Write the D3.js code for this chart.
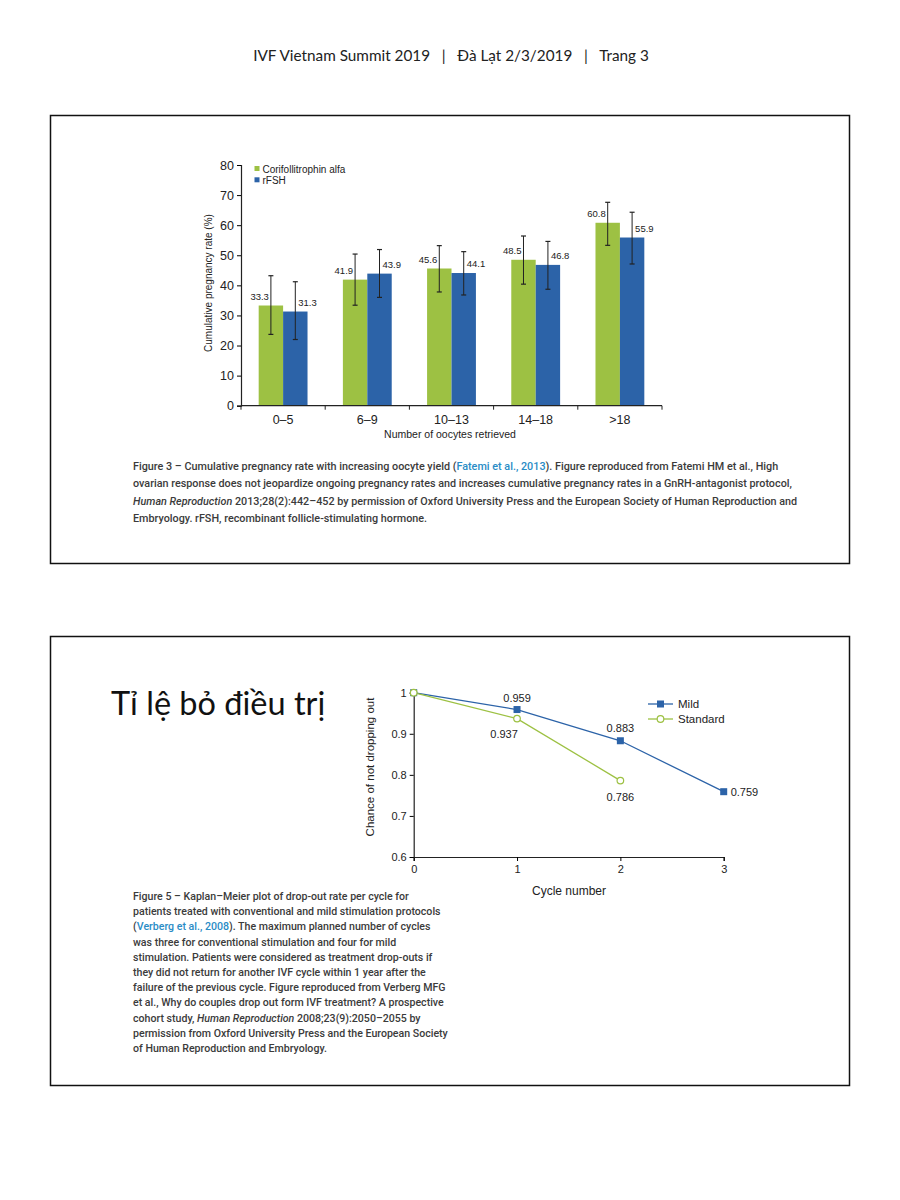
<!DOCTYPE html>
<html>
<head>
<meta charset="utf-8">
<script src="https://cdn.jsdelivr.net/npm/d3@7"></script>
<style>
  body { margin: 0; background: #fff; }
  svg { display: block; }
  .chart text { font-family: "Liberation Sans Narrow", "Liberation Sans", sans-serif; fill: #222; }
  .cap { font-family: Roboto, "Noto Sans", sans-serif; font-weight: 500; fill: #3b3b3b; }
  .cap .link { fill: #2a8cc6; }
  .cap .it { font-style: italic; }
</style>
</head>
<body>
<div id="page"></div>
<script>
// ---- data: figure 3 (bars) ----
var groups = ['0–5', '6–9', '10–13', '14–18', '>18'];
var coriValues = [33.3, 41.9, 45.6, 48.5, 60.8];
var coriLow = [23.7, 33.4, 37.8, 40.4, 53.3];
var coriHigh = [43.2, 50.4, 53.2, 56.4, 67.6];
var rfshValues = [31.3, 43.9, 44.1, 46.8, 55.9];
var rfshLow = [22.0, 36.0, 36.8, 38.7, 47.1];
var rfshHigh = [41.2, 51.9, 51.2, 54.6, 64.3];
var rateTicks = [0, 10, 20, 30, 40, 50, 60, 70, 80];

// ---- data: figure 5 (lines) ----
var cycles = [0, 1, 2, 3];
var mildValues = [1, 0.959, 0.883, 0.759];
var standardValues = [1, 0.937, 0.786];
var chanceTicks = [0.6, 0.7, 0.8, 0.9, 1];
var cycleTicks = [0, 1, 2, 3];

var green = '#9dc143';
var blue = '#2c63a8';

var svg = d3.select('#page').append('svg')
    .attr('width', 900)
    .attr('height', 1200);

// header
svg.append('text')
    .attr('x', 451).attr('y', 61)
    .attr('text-anchor', 'middle')
    .style('font-family', 'Lato, "Open Sans", sans-serif')
    .style('font-size', '15.3px')
    .style('fill', '#222')
    .style('white-space', 'pre')
    .text('IVF Vietnam Summit 2019   |   Đà Lạt 2/3/2019   |   Trang 3');

// frames
svg.append('rect').attr('x', 50.5).attr('y', 115.5).attr('width', 799).attr('height', 448)
    .attr('fill', 'none').attr('stroke', '#111').attr('stroke-width', 1.5);
svg.append('rect').attr('x', 50.5).attr('y', 636.5).attr('width', 799).attr('height', 449)
    .attr('fill', 'none').attr('stroke', '#111').attr('stroke-width', 1.5);

// ================= figure 3 =================
var bars = svg.append('g').attr('class', 'chart');

var x0 = d3.scaleBand().domain(groups).range([241, 662]);
var x1 = d3.scaleBand().domain(['cori', 'rfsh'])
    .range([x0.bandwidth() * 0.21, x0.bandwidth() * 0.79]);
var yRate = d3.scaleLinear().domain([0, 80]).range([405.7, 165]);

var yAxisBar = bars.append('g')
    .attr('transform', 'translate(241,0)')
    .call(d3.axisLeft(yRate).tickValues(rateTicks).tickSize(4).tickPadding(3));
yAxisBar.selectAll('text').style('font-size', '12.5px');

var series = [
  { key: 'cori', color: green, values: coriValues, low: coriLow, high: coriHigh },
  { key: 'rfsh', color: blue, values: rfshValues, low: rfshLow, high: rfshHigh }
];

series.forEach(function(s) {
  var g = bars.append('g');
  groups.forEach(function(grp, i) {
    var bx = x0(grp) + x1(s.key);
    var cx = bx + x1.bandwidth() / 2;
    g.append('rect')
        .attr('x', bx)
        .attr('y', yRate(s.values[i]))
        .attr('width', x1.bandwidth())
        .attr('height', yRate(0) - yRate(s.values[i]))
        .attr('fill', s.color);
    // error bar
    g.append('line').attr('x1', cx).attr('x2', cx)
        .attr('y1', yRate(s.low[i])).attr('y2', yRate(s.high[i]))
        .attr('stroke', '#222').attr('stroke-width', 1);
    [s.low[i], s.high[i]].forEach(function(v) {
      g.append('line').attr('x1', cx - 2.5).attr('x2', cx + 2.5)
          .attr('y1', yRate(v)).attr('y2', yRate(v))
          .attr('stroke', '#222').attr('stroke-width', 1.2);
    });
    // value label
    g.append('text')
        .attr('x', s.key === 'cori' ? cx - 2 : cx + 3)
        .attr('y', yRate(s.values[i]) - 6)
        .attr('text-anchor', s.key === 'cori' ? 'end' : 'start')
        .style('font-size', '9.5px')
        .text(s.values[i].toFixed(1));
  });
});

// x axis drawn after bars
var xAxisBar = bars.append('g').attr('transform', 'translate(0,405.7)');
xAxisBar.append('line').attr('x1', 241).attr('x2', 662)
    .attr('stroke', '#222').attr('stroke-width', 1.2);
x0.domain().forEach(function(grp, i) {
  xAxisBar.append('line').attr('x1', x0(grp)).attr('x2', x0(grp))
      .attr('y1', 0).attr('y2', 4).attr('stroke', '#222');
  xAxisBar.append('text')
      .attr('x', x0(grp) + x0.bandwidth() / 2).attr('y', 18)
      .attr('text-anchor', 'middle')
      .style('font-size', '12.5px')
      .text(grp);
});
xAxisBar.append('line').attr('x1', 662).attr('x2', 662)
    .attr('y1', 0).attr('y2', 4).attr('stroke', '#222');
yAxisBar.select('.domain').attr('stroke', '#222').attr('stroke-width', 1.2);

bars.append('text')
    .attr('x', 450).attr('y', 438)
    .attr('text-anchor', 'middle')
    .style('font-size', '10.5px')
    .text('Number of oocytes retrieved');
bars.append('text')
    .attr('transform', 'translate(212,283) rotate(-90)')
    .attr('text-anchor', 'middle')
    .style('font-size', '10px')
    .text('Cumulative pregnancy rate (%)');

// legend
var barLegend = [['Corifollitrophin alfa', green], ['rFSH', blue]];
barLegend.forEach(function(d, i) {
  bars.append('rect').attr('x', 254.5).attr('y', 166 + i * 11.3)
      .attr('width', 5).attr('height', 5).attr('fill', d[1]);
  bars.append('text').attr('x', 262.5).attr('y', 172.5 + i * 11.3)
      .style('font-size', '10px').text(d[0]);
});

// caption figure 3
var cap1 = [
  [['Figure 3 – Cumulative pregnancy rate with increasing oocyte yield (', ''], ['Fatemi et al., 2013', 'link'], ['). Figure reproduced from Fatemi HM et al., High', '']],
  [['ovarian response does not jeopardize ongoing pregnancy rates and increases cumulative pregnancy rates in a GnRH-antagonist protocol,', '']],
  [['Human Reproduction', 'it'], [' 2013;28(2):442–452 by permission of Oxford University Press and the European Society of Human Reproduction and', '']],
  [['Embryology. rFSH, recombinant follicle-stimulating hormone.', '']]
];

function caption(lines, x, y0, dy, size) {
  var t = svg.append('text').attr('class', 'cap').style('font-size', size + 'px');
  lines.forEach(function(parts, i) {
    parts.forEach(function(p, j) {
      var ts = t.append('tspan').text(p[0]);
      if (j === 0) ts.attr('x', x).attr('y', y0 + i * dy);
      if (p[1]) ts.attr('class', p[1]);
    });
  });
}
caption(cap1, 133, 470, 17.3, 10.8);

// ================= figure 5 =================
var km = svg.append('g').attr('class', 'chart');
var xCyc = d3.scaleLinear().domain([0, 3]).range([413.7, 723.7]);
var yCh = d3.scaleLinear().domain([0.6, 1]).range([857, 692.7]);

var xAxisKm = km.append('g').attr('transform', 'translate(0,857)')
    .call(d3.axisBottom(xCyc).tickValues(cycleTicks).tickFormat(d3.format('d')).tickSize(4).tickPadding(4));
xAxisKm.selectAll('text').style('font-size', '11px');
var yAxisKm = km.append('g').attr('transform', 'translate(413.7,0)')
    .call(d3.axisLeft(yCh).tickValues(chanceTicks).tickFormat(function(d) { return d === 1 ? '1' : d3.format('.1f')(d); }).tickSize(4).tickPadding(3));
yAxisKm.selectAll('text').style('font-size', '11px');
km.selectAll('.domain').attr('stroke', '#222').attr('stroke-width', 1.2);

km.append('text').attr('x', 569).attr('y', 895)
    .attr('text-anchor', 'middle').style('font-size', '12px').text('Cycle number');
km.append('text').attr('transform', 'translate(374,767) rotate(-90)')
    .attr('text-anchor', 'middle').style('font-size', '11.5px').text('Chance of not dropping out');

var line = d3.line().x(function(d, i) { return xCyc(cycles[i]); }).y(function(d) { return yCh(d); });

km.append('path').datum(mildValues).attr('d', line)
    .attr('fill', 'none').attr('stroke', blue).attr('stroke-width', 1.3);
km.append('path').datum(standardValues).attr('d', line)
    .attr('fill', 'none').attr('stroke', green).attr('stroke-width', 1.3);

km.selectAll('.mild').data(mildValues).enter().append('rect')
    .attr('x', function(d, i) { return xCyc(cycles[i]) - 3.5; })
    .attr('y', function(d) { return yCh(d) - 3.5; })
    .attr('width', 7).attr('height', 7).attr('fill', blue);
km.selectAll('.std').data(standardValues).enter().append('circle')
    .attr('cx', function(d, i) { return xCyc(cycles[i]); })
    .attr('cy', function(d) { return yCh(d); })
    .attr('r', 3.3).attr('fill', '#fff').attr('stroke', green).attr('stroke-width', 1.2);

// point labels (dx, dy, anchor)
var mildLabelPos = [null, [0, -8, 'middle'], [0, -9, 'middle'], [7, 4, 'start']];
var stdLabelPos = [null, [-13, 19, 'middle'], [0, 20, 'middle']];
function pointLabels(values, pos) {
  values.forEach(function(v, i) {
    if (!pos[i]) return;
    km.append('text')
        .attr('x', xCyc(cycles[i]) + pos[i][0])
        .attr('y', yCh(v) + pos[i][1])
        .attr('text-anchor', pos[i][2])
        .style('font-size', '11px')
        .text(d3.format('.3f')(v));
  });
}
pointLabels(mildValues, mildLabelPos);
pointLabels(standardValues, stdLabelPos);

// legend
var kmLegend = [['Mild', blue, 'square'], ['Standard', green, 'circle']];
kmLegend.forEach(function(d, i) {
  var ly = 704 + i * 15;
  km.append('line').attr('x1', 648).attr('x2', 673).attr('y1', ly).attr('y2', ly)
      .attr('stroke', d[1]).attr('stroke-width', 1.3);
  if (d[2] === 'square') {
    km.append('rect').attr('x', 657).attr('y', ly - 3.5).attr('width', 7).attr('height', 7).attr('fill', d[1]);
  } else {
    km.append('circle').attr('cx', 660.5).attr('cy', ly).attr('r', 3.3)
        .attr('fill', '#fff').attr('stroke', d[1]).attr('stroke-width', 1.2);
  }
  km.append('text').attr('x', 678).attr('y', ly + 4).style('font-size', '11.5px').text(d[0]);
});

// slide title
svg.append('text')
    .attr('x', 111).attr('y', 715)
    .style('font-family', 'Lato, "Open Sans", sans-serif')
    .style('font-size', '32.5px')
    .style('fill', '#111')
    .text('Tỉ lệ bỏ điều trị');

// caption figure 5
var cap2 = [
  [['Figure 5 – Kaplan–Meier plot of drop-out rate per cycle for', '']],
  [['patients treated with conventional and mild stimulation protocols', '']],
  [['(', ''], ['Verberg et al., 2008', 'link'], ['). The maximum planned number of cycles', '']],
  [['was three for conventional stimulation and four for mild', '']],
  [['stimulation. Patients were considered as treatment drop-outs if', '']],
  [['they did not return for another IVF cycle within 1 year after the', '']],
  [['failure of the previous cycle. Figure reproduced from Verberg MFG', '']],
  [['et al., Why do couples drop out form IVF treatment? A prospective', '']],
  [['cohort study, ', ''], ['Human Reproduction', 'it'], [' 2008;23(9):2050–2055 by', '']],
  [['permission from Oxford University Press and the European Society', '']],
  [['of Human Reproduction and Embryology.', '']]
];
caption(cap2, 133, 900, 15.2, 10.6);
</script>
</body>
</html>
